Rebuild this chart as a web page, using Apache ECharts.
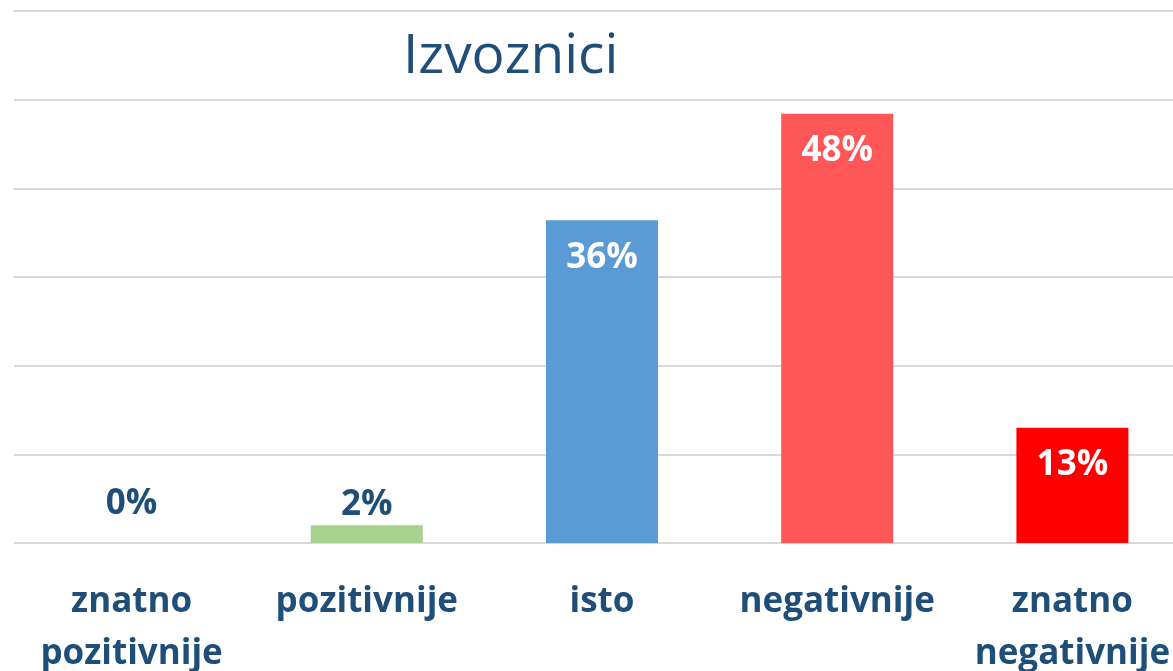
<!DOCTYPE html>
<html>
<head>
<meta charset="utf-8">
<script src="https://cdn.jsdelivr.net/npm/echarts@6/dist/echarts.min.js"></script>
<style>
  html, body { margin: 0; padding: 0; background: #fff; }
  #chart { width: 1173px; height: 671px; }
</style>
</head>
<body>
<div id="chart"></div>
<script>
const categories = ['znatno pozitivnije', 'pozitivnije', 'isto', 'negativnije', 'znatno negativnije'];
const values = [0, 2, 36.4, 48.4, 13];
const barColors = ['#A9D18E', '#A9D18E', '#5B9BD5', '#FF5757', '#FF0000'];
const yTicks = [0, 10, 20, 30, 40, 50, 60];

const chart = echarts.init(document.getElementById('chart'));
const textBlue = '#1F4E79';

const seriesData = values.map((v, i) => {
  const small = v < 5;
  return {
    value: v,
    itemStyle: { color: barColors[i] },
    label: small
      ? { position: 'top', color: textBlue, distance: v === 0 ? 21 : 3 }
      : { position: 'insideTop', color: '#fff', distance: 20 }
  };
});

const option = {
  animation: false,
  title: {
    text: 'Izvoznici',
    left: 398,
    top: 25,
    textStyle: {
      fontFamily: 'Open Sans',
      fontSize: 55,
      fontWeight: 'normal',
      color: textBlue
    }
  },
  grid: {
    left: 14,
    top: 11,
    width: 1176,
    height: 532,
    containLabel: false,
    outerBoundsMode: 'none'
  },
  xAxis: {
    type: 'category',
    data: categories,
    axisLine: { show: false },
    axisTick: { show: false },
    axisLabel: {
      interval: 0,
      margin: 33,
      fontFamily: 'Open Sans',
      fontSize: 35,
      fontWeight: 'bold',
      lineHeight: 52,
      color: textBlue,
      verticalAlign: 'top',
      formatter: (s) => s.replace(' ', '\n')
    }
  },
  yAxis: {
    type: 'value',
    min: yTicks[0],
    max: yTicks[yTicks.length - 1],
    interval: 10,
    axisLabel: { show: false },
    axisLine: { show: false },
    axisTick: { show: false },
    splitLine: { lineStyle: { color: '#D9D9D9', width: 2 } }
  },
  series: [{
    type: 'bar',
    barWidth: 112,
    data: seriesData,
    label: {
      show: true,
      formatter: (p) => Math.round(p.value) + '%',
      fontFamily: 'Open Sans',
      fontSize: 35,
      fontWeight: 'bold'
    }
  }]
};

chart.setOption(option);
</script>
</body>
</html>
